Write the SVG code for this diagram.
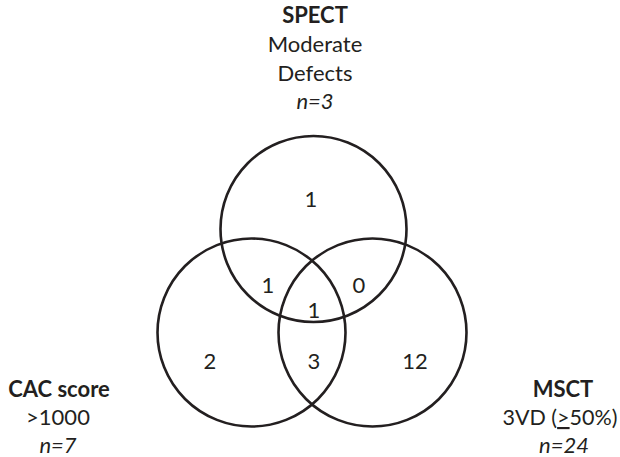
<svg xmlns="http://www.w3.org/2000/svg" width="620" height="457" viewBox="0 0 620 457">
<style>
  text { font-family: Lato, "Liberation Sans", sans-serif; font-size: 22px; fill: #231f20; text-anchor: middle; }
  .b { font-weight: bold; }
  .i { font-style: italic; }
  .c { fill: none; stroke: #231f20; stroke-width: 2.6; }
</style>
<rect width="620" height="457" fill="#ffffff"/>
<g id="connectors"></g>
<g id="spect">
  <circle class="c" cx="313.5" cy="229" r="93"/>
  <text x="315" y="23" class="b">SPECT</text>
  <text x="315" y="52">Moderate</text>
  <text x="315" y="81">Defects</text>
  <text x="315" y="109" class="i">n=3</text>
</g>
<g id="cac">
  <circle class="c" cx="251.5" cy="332.5" r="94"/>
  <text x="59" y="397" class="b">CAC score</text>
  <text x="58" y="425">&gt;1000</text>
  <text x="58" y="453" class="i">n=7</text>
</g>
<g id="msct">
  <circle class="c" cx="372.5" cy="332.5" r="94"/>
  <text x="563" y="397" class="b">MSCT</text>
  <text x="560" y="425" style="font-size:21.5px">3VD (<tspan text-decoration="underline">&gt;</tspan>50%)</text>
  <text x="564" y="453" class="i">n=24</text>
</g>
<g id="counts">
  <text x="311" y="207">1</text>
  <text x="268" y="293">1</text>
  <text x="359" y="293">0</text>
  <text x="314" y="318">1</text>
  <text x="210" y="369">2</text>
  <text x="314" y="369">3</text>
  <text x="415" y="369">12</text>
</g>
</svg>
